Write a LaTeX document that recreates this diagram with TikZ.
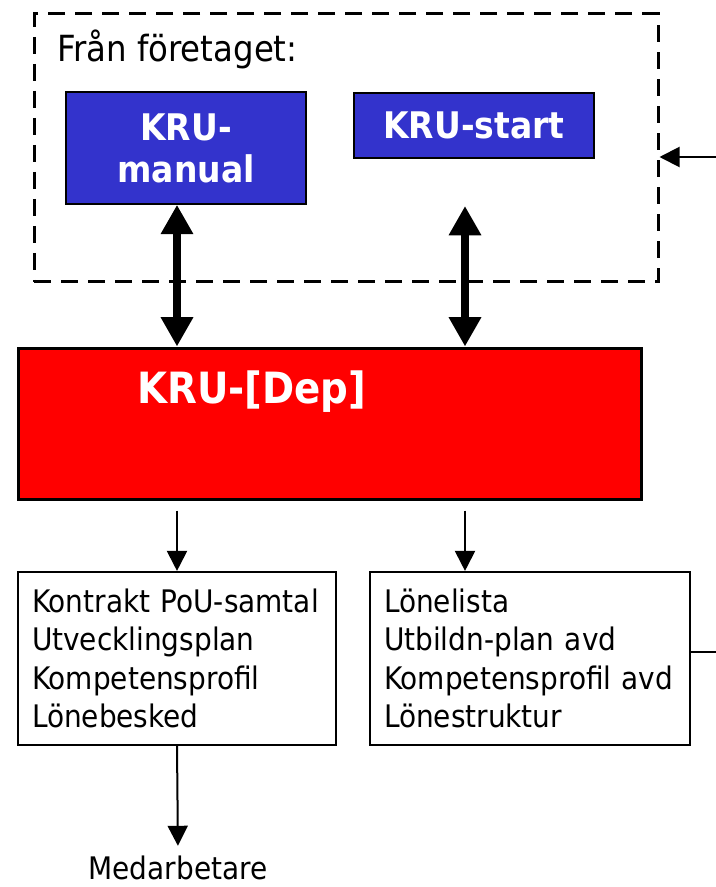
\documentclass[tikz,border=0pt]{standalone}
\usepackage{fontspec}
\setmainfont{DejaVu Sans Condensed}
\usepackage{tikz}
\usetikzlibrary{positioning, arrows.meta}
\definecolor{kruBlue}{HTML}{3333CC}
\definecolor{kruRed}{HTML}{FF0000}
\tikzset{
  firmbox/.style={
    rectangle, draw=black, line width=2.25pt,
    dash pattern=on 12.75pt off 7.5pt,
    minimum width=468pt, minimum height=201pt,
    inner sep=0pt
  },
  bluebox/.style={
    rectangle, draw=black, line width=1.2pt,
    fill=kruBlue, text=white,
    inner sep=0pt, minimum width=180pt,
    align=center,
    font=\bfseries\fontsize{27.5}{31.5}\selectfont
  },
  depbox/.style={
    rectangle, draw=black, line width=2.25pt,
    fill=kruRed,
    inner sep=0pt,
    minimum width=467.25pt, minimum height=113.25pt
  },
  listbox/.style={
    rectangle, draw=black, line width=1.6pt,
    fill=white,
    inner xsep=10.5pt, inner ysep=0pt,
    text width=#1-21pt, minimum width=#1, minimum height=129.75pt,
    align=left,
    font=\fontsize{23.3}{28.9}\selectfont
  },
  bigarrow/.style={
    {Triangle[length=22pt, width=23pt]}-{Triangle[length=22pt, width=23pt]},
    line width=6.3pt
  },
  flow/.style={
    -{Triangle[length=15pt, width=15pt]},
    line width=1.5pt
  },
  plain/.style={font=\fontsize{23.3}{28.9}\selectfont, inner sep=0pt}
}
\begin{document}
\begin{tikzpicture}[x=0.75pt, y=-0.75pt]
  \useasboundingbox (0,0) rectangle (716,887);
  \node[firmbox] (firm) at (346,148) {};
  \node[plain, font=\fontsize{27}{32}\selectfont, anchor=base west] (firmtitle) at (57,62) {Från företaget:};
  \node[bluebox, minimum height=84pt] (kmanual) at (186,148) {KRU-\\manual};
  \node[bluebox, minimum height=48.75pt] (kstart) at (474,125.5) {KRU-start};
  \node[depbox] (dep) at (329.5,423.5) {};
  \node[plain, text=white, font=\bfseries\fontsize{32.3}{38}\selectfont, anchor=base west] (deptitle) at (137,403) {KRU-[Dep]};
  \node[listbox=238.5pt] (contract) at (177,658.5) {Kontrakt PoU-samtal\\Utvecklingsplan\\Kompetensprofil\\Lönebesked};
  \node[listbox=240pt] (lists) at (530,658.5) {Lönelista\\Utbildn-plan avd\\Kompetensprofil avd\\Lönestruktur};
  \node[plain, anchor=base] (medarb) at (178,879) {Medarbetare};
  \coordinate (startlink) at (465,206);
  \coordinate (inflow) at (716,157);
  \coordinate (outflow) at (716,652);
  \draw[bigarrow] (kmanual.south -| contract.north) -- (dep.north -| contract.north);
  \draw[bigarrow] (startlink) -- (dep.north -| startlink);
  \draw[flow, shorten <=7.5pt] (dep.south -| contract.north) -- (contract.north);
  \draw[flow, shorten <=7.5pt] (dep.south -| startlink) -- (lists.north -| startlink);
  \draw[flow, shorten >=7pt] (contract.south) -- (medarb.north);
  \draw[flow] (inflow) -- (firm.east |- inflow);
  \draw[line width=1.5pt] (lists.east |- outflow) -- (outflow);
\end{tikzpicture}
\end{document}
